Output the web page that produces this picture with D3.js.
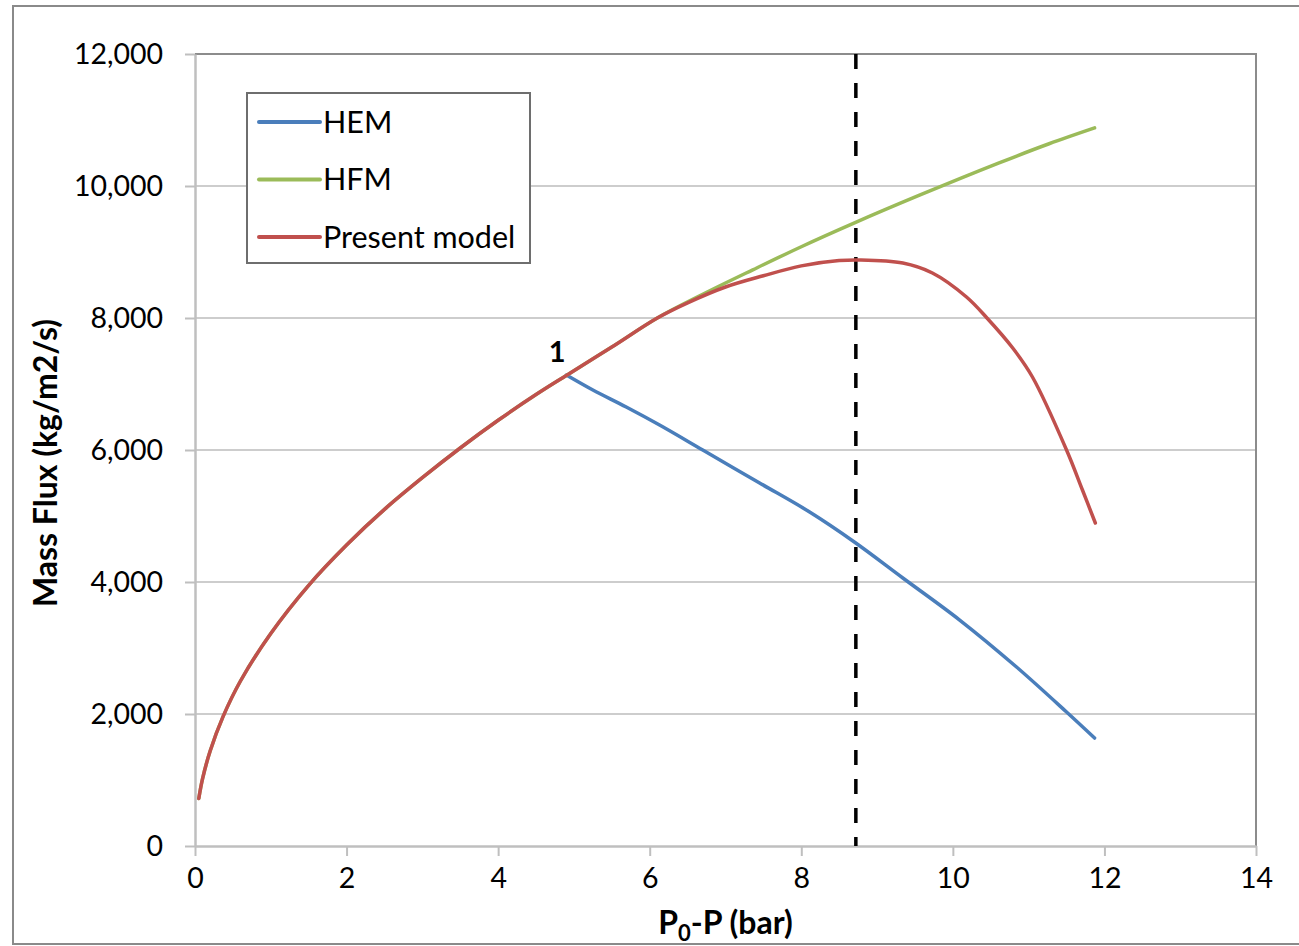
<!DOCTYPE html>
<html lang="en">
<head>
    <meta charset="UTF-8">
    <title>Mass Flux vs P0-P</title>
    <script src="https://cdn.jsdelivr.net/npm/d3@7/dist/d3.min.js"></script>
    <style>
        body { margin: 0; background: #fff; }
        text { font-family: Lato, "Open Sans", sans-serif; fill: #000; }
    </style>
</head>
<body>

<script>
    // values (x = P0-P in bar, y = mass flux)
    var presentX = [0.05, 0.1, 0.2, 0.37, 0.6, 1, 1.5, 2, 2.5, 3, 3.5, 4, 4.5, 4.9, 5.5, 6.1, 6.5, 7.0, 7.5, 8.0, 8.5, 8.77, 9.34, 9.73, 10.18, 10.45, 10.79, 11.05, 11.5, 11.71, 11.88];
    var presentY = [720, 1020, 1440, 1960, 2500, 3220, 3950, 4560, 5100, 5580, 6030, 6450, 6840, 7130, 7560, 8000, 8230, 8470, 8640, 8790, 8870, 8880, 8833, 8682, 8318, 8000, 7545, 7106, 6000, 5394, 4894];

    var hfmX = [0.05, 0.1, 0.2, 0.37, 0.6, 1, 1.5, 2, 2.5, 3, 3.5, 4, 4.5, 4.9, 5.5, 6.1, 6.7, 7.36, 8.0, 8.68, 9.56, 10.61, 11.27, 11.87];
    var hfmY = [720, 1020, 1440, 1960, 2500, 3220, 3950, 4560, 5100, 5580, 6030, 6450, 6840, 7130, 7560, 8000, 8360, 8730, 9080, 9430, 9860, 10350, 10640, 10880];

    var hemX = [4.9, 5.25, 5.69, 6.13, 6.7, 7.45, 8.11, 8.7, 9.34, 10.09, 10.84, 11.5, 11.87];
    var hemY = [7136, 6909, 6652, 6379, 6000, 5500, 5060, 4606, 4061, 3424, 2712, 2030, 1636];

    var seriesNames = ["HEM", "HFM", "Present model"];
    var seriesColors = ["#4a7ebb", "#9bbb59", "#c0504d"];
    var xTicks = [0, 2, 4, 6, 8, 10, 12, 14];
    var yTicks = [0, 2000, 4000, 6000, 8000, 10000, 12000];
    var markerX = 8.72;          // dashed vertical line
    var pointLabel = {x: 4.78, y: 7330, text: "1"};

    var width = 1299;
    var height = 946;
    var margin = {left: 195, top: 54, right: 43, bottom: 100};

    var svg = d3.select("body")
        .append("svg")
        .attr("width", width)
        .attr("height", height);

    // outer chart border
    svg.append("rect")
        .attr("x", 13).attr("y", 6)
        .attr("width", 1310).attr("height", 938)
        .attr("fill", "none")
        .attr("stroke", "#8a8a8a")
        .attr("stroke-width", 2);

    var xScale = d3.scaleLinear()
        .domain([0, 14])
        .range([margin.left, width - margin.right]);

    var yScale = d3.scaleLinear()
        .domain([0, 12000])
        .range([height - margin.bottom, margin.top]);

    // gridlines
    svg.append("g")
        .selectAll("line")
        .data(yTicks.slice(1, -1))
        .enter().append("line")
        .attr("x1", xScale(0))
        .attr("x2", xScale(14))
        .attr("y1", d => yScale(d))
        .attr("y2", d => yScale(d))
        .attr("stroke", "#bdbdbd")
        .attr("stroke-width", 1.5);

    // top and right plot border
    svg.append("path")
        .attr("d", "M" + xScale(0) + "," + yScale(12000) + "H" + xScale(14) + "V" + yScale(0))
        .attr("fill", "none")
        .attr("stroke", "#8c8c8c")
        .attr("stroke-width", 2);

    // axes
    var xAxis = svg.append("g")
        .attr("transform", "translate(0," + yScale(0) + ")")
        .call(d3.axisBottom(xScale).tickValues(xTicks).tickSize(10).tickSizeOuter(0).tickPadding(12));

    var yAxis = svg.append("g")
        .attr("transform", "translate(" + xScale(0) + ",0)")
        .call(d3.axisLeft(yScale).tickValues(yTicks).tickFormat(d3.format(",")).tickSize(10).tickSizeOuter(0).tickPadding(22));

    [xAxis, yAxis].forEach(function (ax) {
        ax.select(".domain").attr("stroke", "#bfbfbf").attr("stroke-width", 2.5);
        ax.selectAll(".tick line").attr("stroke", "#bfbfbf").attr("stroke-width", 2);
        ax.selectAll(".tick text")
            .style("font-family", "Lato, sans-serif")
            .style("font-size", "28.5px")
            .attr("fill", "#111");
    });

    // dashed marker line
    svg.append("line")
        .attr("x1", xScale(markerX)).attr("x2", xScale(markerX))
        .attr("y1", yScale(12000)).attr("y2", yScale(0))
        .attr("stroke", "#000")
        .attr("stroke-width", 3.5)
        .attr("stroke-dasharray", "15,14");

    // series lines
    var line = d3.line()
        .x(d => xScale(d[0]))
        .y(d => yScale(d[1]))
        .curve(d3.curveCatmullRom.alpha(0.5));

    var series = [
        d3.zip(hemX, hemY),
        d3.zip(hfmX, hfmY),
        d3.zip(presentX, presentY)
    ];

    svg.append("g")
        .selectAll("path")
        .data(series)
        .enter().append("path")
        .attr("d", line)
        .attr("fill", "none")
        .attr("stroke", (d, i) => seriesColors[i])
        .attr("stroke-width", 3.5)
        .attr("stroke-linejoin", "round")
        .attr("stroke-linecap", "round");

    // point label
    svg.append("text")
        .attr("x", xScale(pointLabel.x))
        .attr("y", yScale(pointLabel.y))
        .attr("text-anchor", "middle")
        .style("font-size", "29px")
        .style("font-weight", "bold")
        .text(pointLabel.text);

    // legend
    var legend = svg.append("g").attr("transform", "translate(247,93)");
    legend.append("rect")
        .attr("width", 283).attr("height", 170)
        .attr("fill", "#fff")
        .attr("stroke", "#6e6e6e")
        .attr("stroke-width", 2);

    var items = legend.selectAll("g.item")
        .data(seriesNames)
        .enter().append("g")
        .attr("class", "item")
        .attr("transform", (d, i) => "translate(0," + (29 + i * 57.5) + ")");

    items.append("line")
        .attr("x1", 12).attr("x2", 73)
        .attr("stroke", (d, i) => seriesColors[i])
        .attr("stroke-width", 4)
        .attr("stroke-linecap", "round");

    items.append("text")
        .attr("x", 76)
        .attr("dy", "0.36em")
        .style("font-size", "30.5px")
        .attr("fill", "#111")
        .text(d => d);

    // axis titles
    svg.append("text")
        .attr("transform", "translate(57,463) rotate(-90)")
        .attr("text-anchor", "middle")
        .style("font-size", "32px")
        .style("font-weight", "bold")
        .text("Mass Flux (kg/m2/s)");

    var xTitle = svg.append("text")
        .attr("x", xScale(7))
        .attr("y", 934)
        .attr("text-anchor", "middle")
        .style("font-size", "32px")
        .style("font-weight", "bold");
    xTitle.append("tspan").text("P");
    xTitle.append("tspan").attr("dy", 7).style("font-size", "22px").text("0");
    xTitle.append("tspan").attr("dy", -7).text("-P (bar)");
</script>

</body>
</html>
